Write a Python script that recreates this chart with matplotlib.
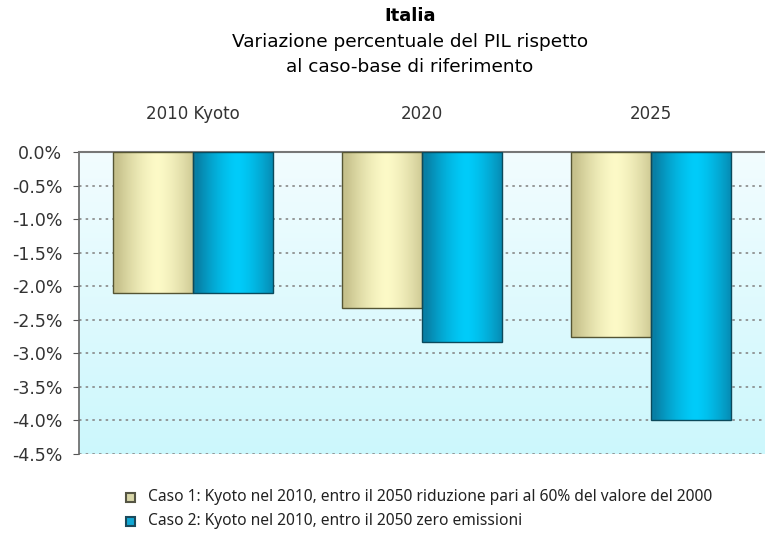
import numpy as np
import matplotlib.pyplot as plt
from matplotlib.ticker import FuncFormatter

# data
categories = ["2010 Kyoto", "2020", "2025"]
caso1 = [-2.1, -2.32, -2.75]
caso2 = [-2.1, -2.83, -4.0]
legend_labels = ["Caso 1: Kyoto nel 2010, entro il 2050 riduzione pari al 60% del valore del 2000",
                 "Caso 2: Kyoto nel 2010, entro il 2050 zero emissioni"]

fig = plt.figure(figsize=(7.65, 5.45), dpi=100)
ax = fig.add_axes([0.103, 0.167, 0.897, 0.554])

# background gradient (light at top, cyan at bottom)
grad = np.linspace(0, 1, 256).reshape(-1, 1)
top_c = np.array([0.95, 0.99, 1.0])
bot_c = np.array([0.80, 0.97, 0.99])
bg = top_c + (bot_c - top_c) * grad
ax.imshow(bg[:, None, :].repeat(2, axis=1), extent=[-0.5, 2.5, -4.5, 0], aspect="auto", zorder=0)

x = np.arange(len(categories))
w = 0.35
b1 = ax.bar(x - w / 2, caso1, w, color="#ece9b4", edgecolor="#555533", linewidth=1.0, zorder=3)
b2 = ax.bar(x + w / 2, caso2, w, color="#12b8e4", edgecolor="#0b4a5c", linewidth=1.0, zorder=3)


def shade(bars, edge, mid):
    edge = np.array(edge)
    mid = np.array(mid)
    t = np.linspace(-1, 1, 64)
    prof = 1 - np.abs(t - 0.1) ** 1.5
    prof = np.clip(prof, 0, 1)
    img = edge + (mid - edge) * prof[:, None]
    img = img[None, :, :]
    for b in bars:
        bx, by = b.get_x(), b.get_y()
        bw, bh = b.get_width(), b.get_height()
        im = ax.imshow(img, extent=[bx, bx + bw, by, by + bh], aspect="auto", zorder=3.5)
        im.set_clip_path(b)
        b.set_zorder(4)
        b.set_facecolor("none")


shade(b1, [0.78, 0.76, 0.55], [0.99, 0.98, 0.78])
shade(b2, [0.03, 0.50, 0.65], [0.0, 0.80, 0.98])

ax.set_xlim(-0.5, 2.5)
ax.set_ylim(-4.5, 0)
ax.set_yticks(np.arange(-4.5, 0.01, 0.5))
ax.yaxis.set_major_formatter(FuncFormatter(lambda v, p: "%.1f%%" % v if abs(v) > 1e-9 else "0.0%"))
ax.yaxis.grid(True, linestyle=(0, (1.5, 2.5)), color="#888888", linewidth=1.2, zorder=1)
ax.set_axisbelow(True)

ax.xaxis.tick_top()
ax.set_xticks(x)
ax.set_xticklabels(categories)
ax.tick_params(axis="x", length=0, pad=21, labelsize=12, labelcolor="#333333")
ax.tick_params(axis="y", length=4, direction="out", pad=8, labelsize=12.5, labelcolor="#333333", color="#555555")
for lab in ax.get_xticklabels() + ax.get_yticklabels():
    lab.set_family("DejaVu Sans")

for s in ["right", "bottom"]:
    ax.spines[s].set_visible(False)
ax.spines["top"].set_color("#777777")
ax.spines["top"].set_linewidth(1.5)
ax.spines["left"].set_color("#666666")
ax.spines["left"].set_linewidth(1.2)

# title
fig.text(0.536, 0.970, "Italia", ha="center", va="center", fontsize=13, fontweight="bold", family="DejaVu Sans")
fig.text(0.536, 0.923, "Variazione percentuale del PIL rispetto", ha="center", va="center", fontsize=13.3, family="DejaVu Sans")
fig.text(0.536, 0.877, "al caso-base di riferimento", ha="center", va="center", fontsize=13.3, family="DejaVu Sans")

# legend
for i, (lab, fc, ec) in enumerate(zip(legend_labels, ["#d8d6a8", "#12a8d4"], ["#555544", "#1b4a5c"])):
    yy = 1 - (497 + 24 * i) / 545
    fig.patches.append(plt.Rectangle((126 / 765, yy - 0.009), 9 / 765, 0.017, transform=fig.transFigure,
                                     facecolor=fc, edgecolor=ec, linewidth=1.5))
    fig.text(148 / 765, yy, lab, ha="left", va="center", fontsize=11.2, family="Noto Sans", color="#222222")

fig.savefig("out.png", dpi=100)
